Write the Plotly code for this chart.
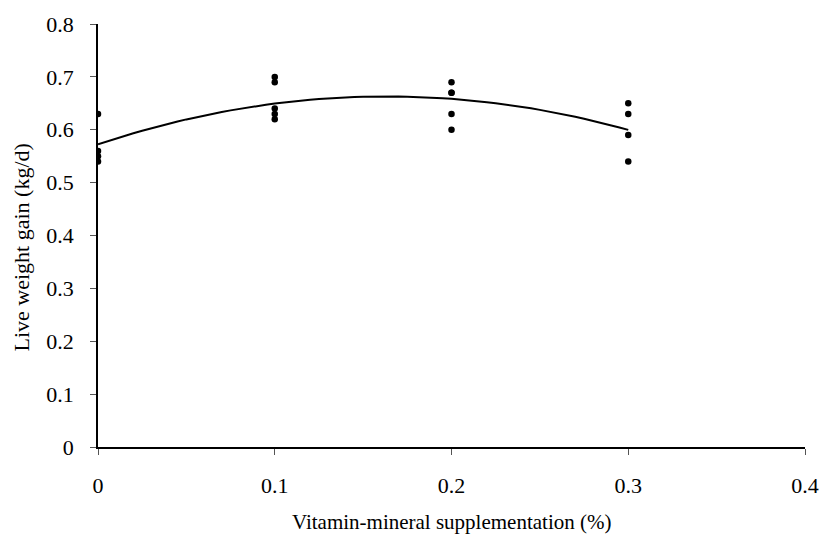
import numpy as np
import plotly.graph_objects as go

supp_x = [0, 0, 0, 0,
          0.1, 0.1, 0.1, 0.1, 0.1,
          0.2, 0.2, 0.2, 0.2, 0.2,
          0.3, 0.3, 0.3, 0.3]
gain_y = [0.63, 0.56, 0.55, 0.54,
          0.70, 0.69, 0.64, 0.63, 0.62,
          0.69, 0.67, 0.67, 0.63, 0.60,
          0.65, 0.63, 0.59, 0.54]

x_ticks = [0, 0.1, 0.2, 0.3, 0.4]
y_ticks = [0, 0.1, 0.2, 0.3, 0.4, 0.5, 0.6, 0.7, 0.8]
x_title = "Vitamin-mineral supplementation (%)"
y_title = "Live weight gain (kg/d)"

# Polynomial (2nd order) trendline fitted to the data
coef = np.polyfit(supp_x, gain_y, 2)
xs = np.linspace(0, 0.3, 61)
ys = np.polyval(coef, xs)

fig = go.Figure()
fig.add_trace(go.Scatter(x=xs, y=ys, mode="lines",
                         line=dict(color="black", width=2), hoverinfo="skip"))
fig.add_trace(go.Scatter(x=supp_x, y=gain_y, mode="markers",
                         marker=dict(color="black", size=6.5)))

FAM = "Liberation Serif, Times New Roman, serif"
font = dict(family=FAM, size=22, color="black")
fig.update_layout(
    width=822, height=536,
    margin=dict(l=98, r=17, t=24, b=89),
    paper_bgcolor="white", plot_bgcolor="white",
    showlegend=False,
    font=font,
)
fig.update_xaxes(range=[0, 0.4], tickvals=x_ticks, ticktext=[f"{v:g}" for v in x_ticks],
                 showline=True, linecolor="black", linewidth=1.5,
                 ticks="outside", ticklen=6, tickcolor="#555", showgrid=False, zeroline=False,
                 automargin=False, ticklabelstandoff=12, tickfont=font)
fig.update_yaxes(range=[0, 0.8], tickvals=y_ticks, ticktext=[f"{v:g}" for v in y_ticks],
                 showline=True, linecolor="black", linewidth=1.5,
                 ticks="outside", ticklen=6, tickcolor="#555", showgrid=False, zeroline=False,
                 automargin=False, ticklabelstandoff=12, tickfont=font)

fig.add_annotation(text=x_title, xref="paper", yref="paper", x=0.5, y=0,
                   yshift=-75, showarrow=False, xanchor="center", yanchor="middle",
                   font=dict(family=FAM, size=21, color="black"))
fig.add_annotation(text=y_title, xref="paper", yref="paper", x=0, y=0.5,
                   xshift=-77, yshift=-12, showarrow=False, textangle=-90,
                   xanchor="center", yanchor="middle",
                   font=dict(family=FAM, size=22, color="black"))

fig.write_html("out.html", config={"displayModeBar": False},
               post_script="document.body.style.margin='0';document.body.style.overflow='hidden';")
